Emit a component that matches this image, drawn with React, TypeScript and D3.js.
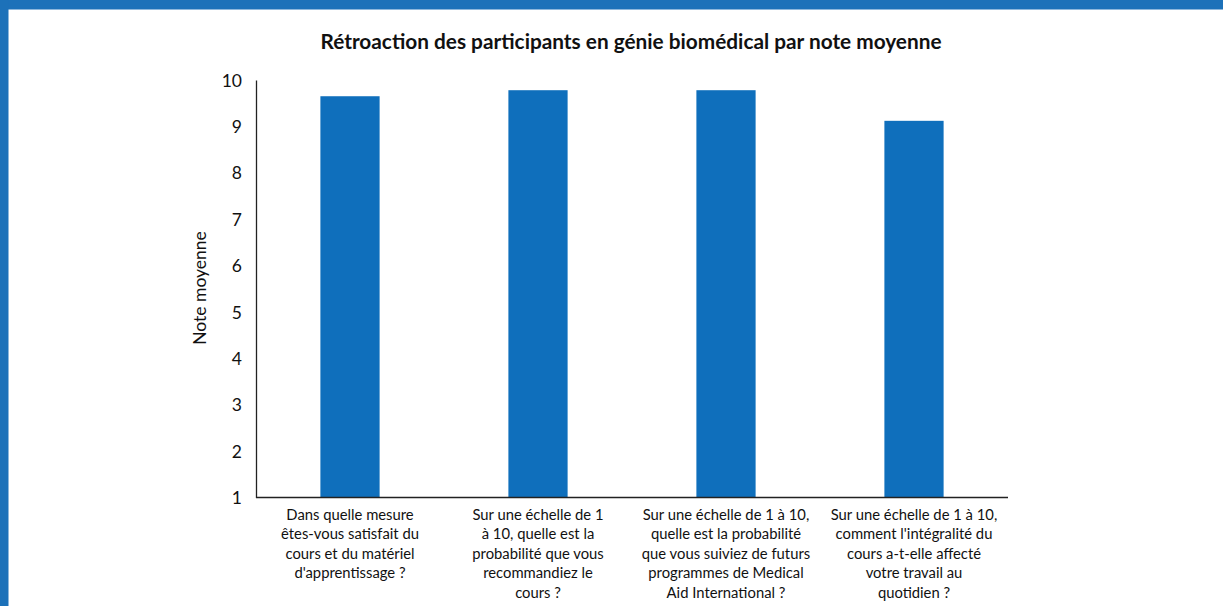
import React, { useEffect, useRef } from "react";
import * as d3 from "d3";

const categories = [
  ["Dans quelle mesure", "êtes-vous satisfait du", "cours et du matériel", "d'apprentissage ?"],
  ["Sur une échelle de 1", "à 10, quelle est la", "probabilité que vous", "recommandiez le", "cours ?"],
  ["Sur une échelle de 1 à 10,", "quelle est la probabilité", "que vous suiviez de futurs", "programmes de Medical", "Aid International ?"],
  ["Sur une échelle de 1 à 10,", "comment l'intégralité du", "cours a-t-elle affecté", "votre travail au", "quotidien ?"],
];
const values = [9.65, 9.78, 9.78, 9.12];
const yTicks = [1, 2, 3, 4, 5, 6, 7, 8, 9, 10];

const title = "Rétroaction des participants en génie biomédical par note moyenne";
const yTitle = "Note moyenne";

const W = 1223;
const H = 606;
const FONT = "Lato, 'Open Sans', sans-serif";

const App: React.FC = () => {
  const ref = useRef<SVGSVGElement>(null);

  useEffect(() => {
    if (!ref.current) return;
    const svg = d3.select(ref.current);
    svg.selectAll("*").remove();

    const left = 256;
    const right = 1008;
    const top = 80;
    const bottom = 497.5;

    svg.append("rect").attr("width", W).attr("height", H).attr("fill", "#fff");
    // frame
    svg.append("rect").attr("x", 0).attr("y", 0).attr("width", W).attr("height", 9.5).attr("fill", "#1c71b9");
    svg.append("rect").attr("x", 0).attr("y", 0).attr("width", 8.5).attr("height", H).attr("fill", "#1c71b9");

    const x = d3
      .scaleBand<number>()
      .domain(d3.range(categories.length))
      .range([left, right])
      .paddingInner(0.685)
      .paddingOuter(0.3425);

    const y = d3.scaleLinear().domain([1, 10]).range([bottom, top]);

    svg
      .append("text")
      .attr("x", 631)
      .attr("y", 49)
      .attr("text-anchor", "middle")
      .attr("font-family", FONT)
      .attr("font-weight", "bold")
      .attr("font-size", 20.8)
      .attr("fill", "#111")
      .text(title);

    // bars
    svg
      .append("g")
      .selectAll("rect")
      .data(values)
      .join("rect")
      .attr("x", (_, i) => x(i)!)
      .attr("width", x.bandwidth())
      .attr("y", (d) => y(d))
      .attr("height", (d) => bottom - y(d))
      .attr("fill", "#0f6fbc");

    // y axis
    const yAxis = svg
      .append("g")
      .attr("transform", `translate(${left},0)`)
      .call(d3.axisLeft(y).tickValues(yTicks).tickSize(0).tickPadding(14).tickFormat(d3.format("d")));
    yAxis.select(".domain").attr("stroke", "#222").attr("stroke-width", 1.3);
    yAxis
      .selectAll("text")
      .attr("font-family", FONT)
      .attr("font-size", 17.5)
      .attr("fill", "#111")
      .attr("dy", "0.35em");

    // x axis line
    svg
      .append("line")
      .attr("x1", left)
      .attr("x2", right)
      .attr("y1", bottom)
      .attr("y2", bottom)
      .attr("stroke", "#222")
      .attr("stroke-width", 1.3);

    // category labels
    const labels = svg.append("g");
    categories.forEach((lines, i) => {
      const cx = x(i)! + x.bandwidth() / 2;
      const t = labels
        .append("text")
        .attr("text-anchor", "middle")
        .attr("font-family", FONT)
        .attr("font-size", 14.8)
        .attr("fill", "#111");
      lines.forEach((ln, j) => {
        t.append("tspan").attr("x", cx).attr("y", 520 + j * 19.4).text(ln);
      });
    });

    svg
      .append("text")
      .attr("transform", `translate(206,288) rotate(-90)`)
      .attr("text-anchor", "middle")
      .attr("font-family", FONT)
      .attr("font-size", 17.5)
      .attr("fill", "#111")
      .text(yTitle);
  }, []);

  return (
    <svg
      ref={ref}
      width={W}
      height={H}
      style={{ position: "absolute", left: 0, top: 0 }}
    />
  );
};

export default App;
